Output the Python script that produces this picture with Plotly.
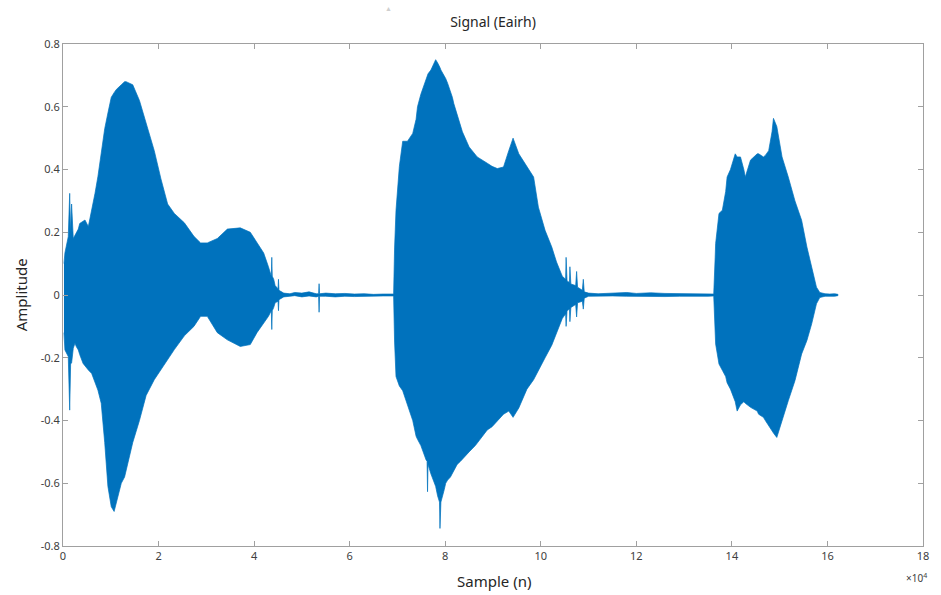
import plotly.graph_objects as go

# Envelope of the waveform (sample index in units of 1e4)
sample_n = [
    0.02, 0.04, 0.11, 0.14, 0.16, 0.18, 0.215, 0.25, 0.28, 0.32, 0.35, 0.42, 0.46, 0.53, 0.60, 0.63,
    0.67, 0.73, 0.80, 0.873, 0.94, 0.977, 1.01, 1.07, 1.116, 1.22, 1.289, 1.32, 1.46, 1.60, 1.74,
    1.91, 2.05, 2.19, 2.33, 2.54, 2.74, 2.88, 3.02, 3.23, 3.44, 3.71, 3.92, 4.06, 4.20, 4.30, 4.36,
    4.37, 4.38, 4.41, 4.44, 4.50, 4.51, 4.52, 4.62, 4.75, 4.85, 5.0, 5.15, 5.3, 5.35, 5.36, 5.37,
    5.5, 5.7, 5.9, 6.1, 6.3, 6.5, 6.7, 6.92, 6.94, 6.97, 7.04, 7.11, 7.21, 7.32, 7.39, 7.42, 7.49,
    7.60, 7.62, 7.63, 7.64, 7.70, 7.80, 7.84, 7.88, 7.89, 7.91, 7.98, 8.01, 8.05, 8.11, 8.15, 8.18,
    8.25, 8.32, 8.36, 8.50, 8.63, 8.67, 8.88, 8.98, 9.09, 9.22, 9.33, 9.42, 9.54, 9.71, 9.85, 9.95,
    10.09, 10.23, 10.33, 10.45, 10.52, 10.53, 10.55, 10.60, 10.61, 10.63, 10.73, 10.75, 10.77, 10.87,
    10.89, 10.91, 11.0, 11.2, 11.5, 11.8, 12.0, 12.3, 12.6, 12.9, 13.2, 13.5, 13.62, 13.65, 13.66,
    13.73, 13.80, 13.87, 13.90, 13.97, 14.01, 14.07, 14.11, 14.18, 14.25, 14.28, 14.39, 14.53, 14.56,
    14.66, 14.70, 14.77, 14.84, 14.87, 14.94, 15.05, 15.18, 15.32, 15.46, 15.57, 15.67, 15.77, 15.84,
    15.95, 16.05, 16.15, 16.22,
]
env_upper = [
    0.10, 0.134, 0.186, 0.324, 0.20, 0.29, 0.18, 0.19, 0.197, 0.21, 0.228, 0.235, 0.239, 0.218, 0.27, 0.29,
    0.324, 0.377, 0.45, 0.53, 0.58, 0.61, 0.63, 0.645, 0.655, 0.67, 0.68, 0.68, 0.67, 0.62, 0.55,
    0.46, 0.37, 0.29, 0.26, 0.23, 0.187, 0.166, 0.166, 0.18, 0.21, 0.214, 0.20, 0.166, 0.134, 0.09, 0.06,
    0.12, 0.06, 0.05, 0.03, 0.02, 0.05, 0.015, 0.006, 0.004, 0.008, 0.006, 0.01, 0.004, 0.004, 0.036, 0.004,
    0.006, 0.004, 0.005, 0.003, 0.004, 0.002, 0.003, 0.003, 0.15, 0.27, 0.41, 0.49, 0.49, 0.515, 0.56, 0.60, 0.64,
    0.69, 0.695, 0.70, 0.705, 0.717, 0.75, 0.74, 0.73, 0.725, 0.717, 0.70, 0.69, 0.675, 0.65, 0.63, 0.61,
    0.575, 0.536, 0.52, 0.472, 0.445, 0.44, 0.42, 0.41, 0.403, 0.408, 0.46, 0.50, 0.45, 0.408, 0.376, 0.28,
    0.206, 0.153, 0.105, 0.06, 0.05, 0.12, 0.045, 0.04, 0.09, 0.035, 0.03, 0.075, 0.025, 0.015,
    0.05, 0.01, 0.006, 0.004, 0.006, 0.008, 0.005, 0.007, 0.005, 0.004, 0.005, 0.004, 0.003, 0.12, 0.164,
    0.26, 0.27, 0.33, 0.376, 0.40, 0.42, 0.45, 0.44, 0.44, 0.40, 0.376, 0.43, 0.45, 0.45,
    0.44, 0.445, 0.46, 0.52, 0.563, 0.537, 0.44, 0.376, 0.30, 0.238, 0.153, 0.089, 0.025, 0.008,
    0.004, 0.003, 0.004, 0.002,
]
env_lower = [
    -0.12, -0.175, -0.196, -0.367, -0.22, -0.217, -0.17, -0.154, -0.165, -0.175, -0.19, -0.218, -0.225, -0.239, -0.25, -0.26,
    -0.28, -0.303, -0.345, -0.47, -0.61, -0.64, -0.675, -0.69, -0.66, -0.60, -0.58, -0.56, -0.47, -0.40, -0.32,
    -0.27, -0.24, -0.206, -0.174, -0.13, -0.10, -0.068, -0.068, -0.12, -0.143, -0.164, -0.158, -0.12, -0.09, -0.068, -0.05,
    -0.11, -0.05, -0.04, -0.025, -0.02, -0.05, -0.015, -0.006, -0.004, -0.002, -0.006, -0.003, -0.006, -0.004, -0.055, -0.004,
    -0.004, -0.006, -0.004, -0.005, -0.003, -0.004, -0.003, -0.003, -0.15, -0.26, -0.29, -0.305, -0.348, -0.40, -0.45, -0.46, -0.48,
    -0.526, -0.53, -0.627, -0.54, -0.57, -0.61, -0.64, -0.66, -0.744, -0.66, -0.62, -0.60, -0.59, -0.58, -0.57, -0.56,
    -0.54, -0.53, -0.526, -0.50, -0.48, -0.47, -0.43, -0.42, -0.40, -0.38, -0.37, -0.39, -0.36, -0.30, -0.27, -0.24,
    -0.20, -0.16, -0.12, -0.075, -0.06, -0.10, -0.05, -0.045, -0.085, -0.04, -0.03, -0.07, -0.025, -0.02,
    -0.045, -0.01, -0.004, -0.004, -0.003, -0.004, -0.006, -0.005, -0.005, -0.004, -0.003, -0.004, -0.003, -0.12, -0.156,
    -0.22, -0.24, -0.26, -0.28, -0.30, -0.316, -0.34, -0.37, -0.35, -0.34, -0.345, -0.358, -0.37, -0.38,
    -0.39, -0.40, -0.42, -0.433, -0.44, -0.454, -0.40, -0.337, -0.273, -0.188, -0.145, -0.092, -0.028, -0.008,
    -0.004, -0.003, -0.004, -0.002,
]

x_ticks = [0, 2, 4, 6, 8, 10, 12, 14, 16, 18]
x_tick_labels = ["0", "2", "4", "6", "8", "10", "12", "14", "16", "18"]
y_ticks = [0.8, 0.6, 0.4, 0.2, 0, -0.2, -0.4, -0.6, -0.8]
y_tick_labels = ["0.8", "0.6", "0.4", "0.2", "0", "-0.2", "-0.4", "-0.6", "-0.8"]

BLUE = "#0072BD"
FONT = "Noto Sans"

poly_x = sample_n + sample_n[::-1]
poly_y = env_upper + env_lower[::-1]

fig = go.Figure()
fig.add_trace(go.Scatter(
    x=poly_x, y=poly_y, mode="lines", fill="toself",
    fillcolor=BLUE, line=dict(color=BLUE, width=0.7),
    hoverinfo="skip", showlegend=False,
))

L, R, T, B = 63, 13, 44, 49
W, H = 941, 595
pw, ph = W - L - R, H - T - B

axis_common = dict(
    showline=True, linecolor="#a0a0a0", linewidth=1, mirror="ticks",
    ticks="inside", ticklen=5, tickcolor="#a0a0a0", showgrid=False, zeroline=False,
    tickfont=dict(family=FONT, size=11, color="#404040"),
)
fig.update_xaxes(range=[0, 18], tickvals=x_ticks, ticktext=x_tick_labels, **axis_common)
fig.update_yaxes(range=[-0.8, 0.8], tickvals=y_ticks, ticktext=y_tick_labels, **axis_common)

def px_to_paper(px, py):
    return (px - L) / pw, (H - B - py) / ph

annots = []
ax, ay = px_to_paper(497, 581)
annots.append(dict(text="Sample (n)", x=ax, y=ay, xref="paper", yref="paper", showarrow=False,
                   font=dict(family=FONT, size=15, color="#262626"), xanchor="center", yanchor="middle"))
ax, ay = px_to_paper(21, 295)
annots.append(dict(text="Amplitude", x=ax, y=ay, xref="paper", yref="paper", showarrow=False, textangle=-90,
                   font=dict(family=FONT, size=15, color="#262626"), xanchor="center", yanchor="middle"))
ax, ay = px_to_paper(921, 578)
annots.append(dict(text="×10<sup>4</sup>", x=ax, y=ay, xref="paper", yref="paper", showarrow=False,
                   font=dict(family=FONT, size=10, color="#404040"), xanchor="center", yanchor="middle"))
ax, ay = px_to_paper(390, 8)
annots.append(dict(text="▲", x=ax, y=ay, xref="paper", yref="paper", showarrow=False,
                   font=dict(family=FONT, size=7, color="#cfcfcf"), xanchor="center", yanchor="middle"))

fig.update_layout(
    width=W, height=H,
    margin=dict(l=L, r=R, t=T, b=B),
    paper_bgcolor="white", plot_bgcolor="white",
    title=dict(text="Signal (Eairh)", x=0.5, xref="paper", y=1 - 22 / H, yref="container",
               xanchor="center", yanchor="middle", font=dict(family=FONT, size=14, color="#262626")),
    annotations=annots,
)

fig.write_html(
    "out.html",
    config={"displayModeBar": False},
    post_script="document.body.style.margin='0px';document.documentElement.style.overflow='hidden';",
)
